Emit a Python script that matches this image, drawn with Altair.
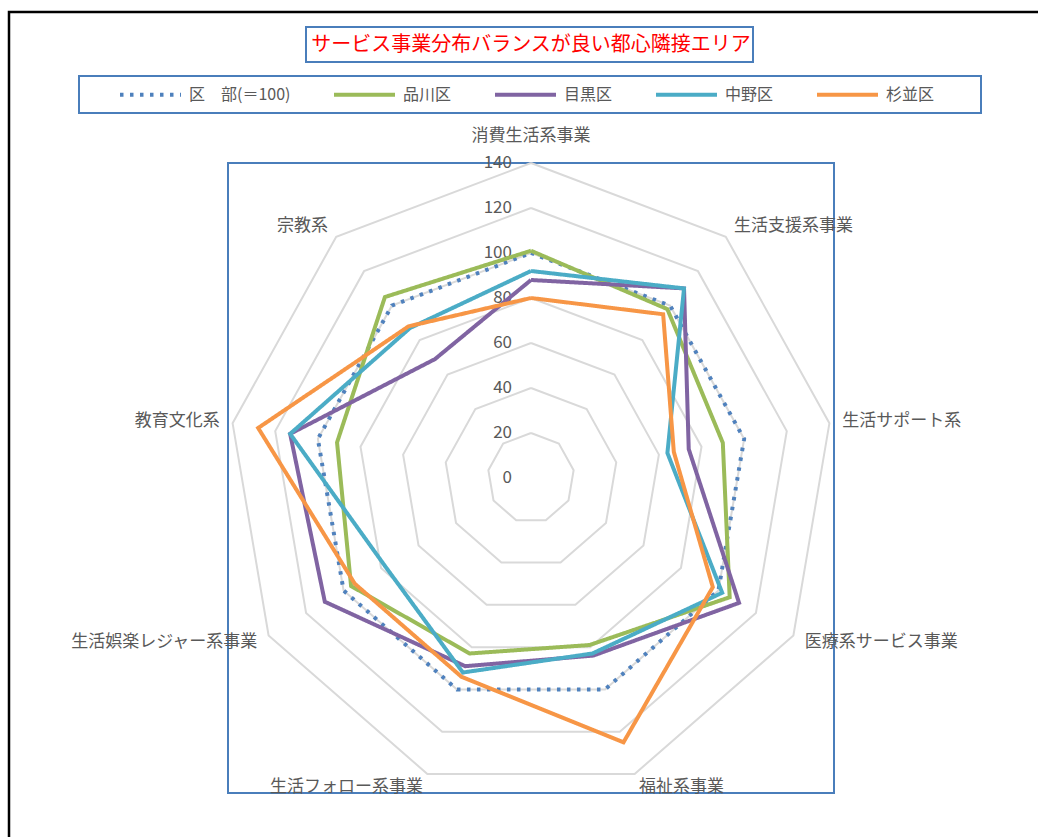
import altair as alt
import pandas as pd

# ---------------- data ----------------
categories = ["消費生活系事業", "生活支援系事業", "生活サポート系", "医療系サービス事業",
              "福祉系事業", "生活フォロー系事業", "生活娯楽レジャー系事業", "教育文化系", "宗教系"]
series_names = ["区　部(＝100)", "品川区", "目黒区", "中野区", "杉並区"]
kubu = [100, 100, 100, 100, 100, 100, 100, 100, 100]
shinagawa = [101, 98, 90, 106, 79, 83, 96, 91, 105]
meguro = [88, 110, 74, 111, 84, 89, 110, 113, 69]
nakano = [92, 110, 64, 102, 83, 92, 78, 113, 87]
suginami = [80, 95, 67, 97, 125, 94, 94, 128, 88]
grid_levels = [20, 40, 60, 80, 100, 120, 140]
tick_values = [0, 20, 40, 60, 80, 100, 120, 140]
title_text = "サービス事業分布バランスが良い都心隣接エリア"

colors = ["#4F81BD", "#9BBB59", "#8064A2", "#4BACC6", "#F79646"]
dashes = [[3.5, 6.5], [1, 0], [1, 0], [1, 0], [1, 0]]
FONT = "Noto Sans CJK JP"
GRAY = "#595959"
BLUE = "#4A7EBB"
N = len(categories)
LABEL_R = 146

# ---------------- tables ----------------
rows = []
for name, vals in zip(series_names, [kubu, shinagawa, meguro, nakano, suginami]):
    for i in range(N + 1):
        rows.append({"series": name, "idx": i, "value": vals[i % N]})
series_df = pd.DataFrame(rows)

grid_df = pd.DataFrame([{"level": lv, "idx": i, "value": lv}
                        for lv in grid_levels for i in range(N + 1)])
tick_df = pd.DataFrame({"v": tick_values})
label_df = pd.DataFrame({"cat": categories, "idx": list(range(N))})

ang = f"datum.idx * 2 * PI / {N}"
xs = alt.Scale(domain=[-140, 140], nice=False, zero=False)
ys = alt.Scale(domain=[-140, 140], nice=False, zero=False)
X = lambda: alt.X("x:Q", scale=xs, axis=None)
Y = lambda: alt.Y("y:Q", scale=ys, axis=None)

one = pd.DataFrame({"a": [1]})

# decorations: outer frame, title box, legend box
frame = alt.Chart(one).mark_rect(fillOpacity=0, stroke="black", strokeWidth=2.5).encode(
    x=alt.value(-219), x2=alt.value(830), y=alt.value(-151), y2=alt.value(700))
title_box = alt.Chart(one).mark_rect(fillOpacity=0, stroke=BLUE, strokeWidth=2).encode(
    x=alt.value(306 - 228), x2=alt.value(753 - 228), y=alt.value(27 - 163), y2=alt.value(62 - 163))
legend_box = alt.Chart(one).mark_rect(fillOpacity=0, stroke=BLUE, strokeWidth=2).encode(
    x=alt.value(79 - 228), x2=alt.value(981 - 228), y=alt.value(76 - 163), y2=alt.value(113 - 163))
title = alt.Chart(one).mark_text(text=title_text, fontSize=20, color="#FF0000", font=FONT,
                                 align="center", baseline="middle").encode(
    x=alt.value(303), y=alt.value(45 - 163))

grid = alt.Chart(grid_df).transform_calculate(
    x=f"datum.value * sin({ang})", y=f"datum.value * cos({ang})"
).mark_line(color="#D9D9D9", strokeWidth=2).encode(
    x=X(), y=Y(), order="idx:Q", detail="level:N")

ticks = alt.Chart(tick_df).transform_calculate(x="0", y="datum.v").mark_text(
    align="right", baseline="middle", dx=-19, fontSize=17, color=GRAY, font=FONT
).encode(x=X(), y=Y(), text="v:Q")

legend = alt.Legend(orient="none", legendX=-110, legendY=-101, direction="horizontal",
                    columns=5, title=None, symbolType="stroke", symbolSize=3721,
                    symbolStrokeWidth=4, labelFontSize=16, labelColor=GRAY, labelFont=FONT,
                    labelOffset=6, columnPadding=35, padding=0)

lines = alt.Chart(series_df).transform_calculate(
    x=f"datum.value * sin({ang})", y=f"datum.value * cos({ang})"
).mark_line(strokeWidth=4).encode(
    x=X(), y=Y(), order="idx:Q",
    color=alt.Color("series:N", scale=alt.Scale(domain=series_names, range=colors), legend=legend),
    strokeDash=alt.StrokeDash("series:N", scale=alt.Scale(domain=series_names, range=dashes), legend=legend),
)

lab_base = alt.Chart(label_df).transform_calculate(
    x=f"{LABEL_R} * sin({ang})", y=f"{LABEL_R} * cos({ang})")
lab_top = lab_base.transform_filter("datum.idx == 0").mark_text(
    align="center", baseline="middle", dy=-14, fontSize=17, color=GRAY, font=FONT
).encode(x=X(), y=Y(), text="cat:N")
lab_left = lab_base.transform_filter("datum.idx >= 1 && datum.idx <= 4").mark_text(
    align="left", baseline="middle", fontSize=17, color=GRAY, font=FONT
).encode(x=X(), y=Y(), text="cat:N")
lab_right = lab_base.transform_filter("datum.idx >= 5").mark_text(
    align="right", baseline="middle", fontSize=17, color=GRAY, font=FONT
).encode(x=X(), y=Y(), text="cat:N")

chart = alt.layer(frame, title_box, legend_box, title, grid, ticks, lines,
                  lab_top, lab_left, lab_right).properties(
    width=606, height=630,
    padding={"left": 228, "top": 163, "right": 204, "bottom": 44},
    autosize=alt.AutoSizeParams(type="none"),
    background="white",
).configure(font=FONT).configure_view(stroke=BLUE, strokeWidth=2)

chart.save("out.html", embed_options={"renderer": "svg", "actions": False})
